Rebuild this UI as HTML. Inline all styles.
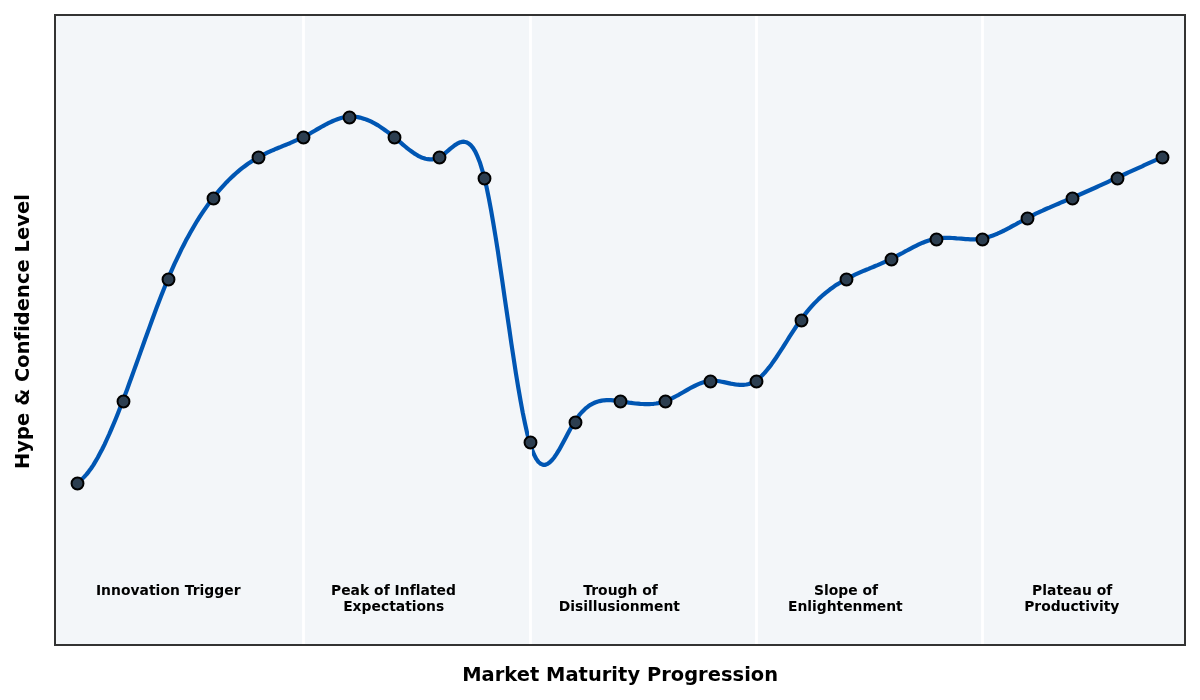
<!DOCTYPE html>
<html lang="en">
<head>
<meta charset="utf-8">
<title>Hype Cycle</title>
<style>
html,body{margin:0;padding:0;background:#fff;}
body{width:1200px;height:700px;overflow:hidden;}
svg{display:block;}
text{font-family:"DejaVu Sans","Liberation Sans",sans-serif;font-weight:bold;fill:#000;}
.lbl text{font-size:13.89px;text-anchor:middle;}
.ax{font-size:19.44px;text-anchor:middle;}
.pts circle{fill:#2c3e50;stroke:#000;stroke-width:2.0;}
</style>
</head>
<body>
<svg width="1200" height="700" viewBox="0 0 1200 700">
<rect x="0" y="0" width="1200" height="700" fill="#fff"/>
<rect x="54.83" y="15.00" width="1130.17" height="630.17" fill="#f3f6f9"/>
<polyline points="77.4,482.5 79.7,481.0 82.0,479.1 84.2,476.9 86.5,474.4 88.7,471.6 91.0,468.5 93.3,465.1 95.5,461.4 97.8,457.5 100.0,453.3 102.3,449.0 104.6,444.3 106.8,439.5 109.1,434.5 111.3,429.4 113.6,424.0 115.9,418.5 118.1,412.9 120.4,407.1 122.6,401.2 124.9,395.3 127.2,389.2 129.4,383.0 131.7,376.8 133.9,370.6 136.2,364.3 138.5,357.9 140.7,351.6 143.0,345.3 145.2,339.0 147.5,332.7 149.8,326.4 152.0,320.2 154.3,314.1 156.5,308.0 158.8,302.0 161.1,296.1 163.3,290.4 165.6,284.8 167.9,279.3 170.1,273.9 172.4,268.7 174.6,263.7 176.9,258.8 179.2,254.1 181.4,249.4 183.7,245.0 185.9,240.6 188.2,236.4 190.5,232.3 192.7,228.4 195.0,224.5 197.2,220.8 199.5,217.2 201.8,213.7 204.0,210.4 206.3,207.1 208.5,204.0 210.8,200.9 213.1,198.0 215.3,195.1 217.6,192.3 219.8,189.7 222.1,187.1 224.4,184.6 226.6,182.2 228.9,179.9 231.1,177.7 233.4,175.6 235.7,173.5 237.9,171.6 240.2,169.7 242.4,167.9 244.7,166.2 247.0,164.5 249.2,162.9 251.5,161.4 253.7,160.0 256.0,158.6 258.3,157.3 260.5,156.1 262.8,154.9 265.0,153.8 267.3,152.7 269.6,151.6 271.8,150.6 274.1,149.7 276.3,148.7 278.6,147.8 280.9,146.9 283.1,145.9 285.4,145.0 287.6,144.1 289.9,143.2 292.2,142.2 294.4,141.2 296.7,140.2 298.9,139.2 301.2,138.1 303.5,137.0 305.7,135.8 308.0,134.5 310.3,133.3 312.5,132.0 314.8,130.7 317.0,129.4 319.3,128.1 321.6,126.8 323.8,125.6 326.1,124.3 328.3,123.2 330.6,122.1 332.9,121.0 335.1,120.1 337.4,119.2 339.6,118.5 341.9,117.8 344.2,117.3 346.4,116.9 348.7,116.6 350.9,116.5 353.2,116.6 355.5,116.8 357.7,117.1 360.0,117.6 362.2,118.2 364.5,118.9 366.8,119.7 369.0,120.6 371.3,121.7 373.5,122.8 375.8,124.1 378.1,125.4 380.3,126.9 382.6,128.4 384.8,130.0 387.1,131.6 389.4,133.3 391.6,135.1 393.9,137.0 396.1,138.9 398.4,140.8 400.7,142.7 402.9,144.6 405.2,146.5 407.4,148.4 409.7,150.1 412.0,151.8 414.2,153.4 416.5,154.8 418.7,156.1 421.0,157.2 423.3,158.1 425.5,158.8 427.8,159.2 430.0,159.4 432.3,159.4 434.6,159.0 436.8,158.3 439.1,157.3 441.4,155.9 443.6,154.3 445.9,152.5 448.1,150.6 450.4,148.6 452.7,146.8 454.9,145.1 457.2,143.7 459.4,142.6 461.7,141.9 464.0,141.7 466.2,142.2 468.5,143.3 470.7,145.2 473.0,147.9 475.3,151.6 477.5,156.4 479.8,162.2 482.0,169.3 484.3,177.6 486.6,187.3 488.8,198.2 491.1,210.3 493.3,223.2 495.6,237.0 497.9,251.4 500.1,266.4 502.4,281.7 504.6,297.3 506.9,312.9 509.2,328.4 511.4,343.8 513.7,358.8 515.9,373.3 518.2,387.2 520.5,400.3 522.7,412.4 525.0,423.5 527.2,433.4 529.5,441.9 531.8,448.9 534.0,454.6 536.3,458.9 538.5,462.0 540.8,463.9 543.1,464.8 545.3,464.8 547.6,463.9 549.8,462.3 552.1,460.0 554.4,457.2 556.6,453.9 558.9,450.2 561.1,446.2 563.4,442.0 565.7,437.7 567.9,433.5 570.2,429.3 572.4,425.3 574.7,421.6 577.0,418.2 579.2,415.2 581.5,412.5 583.8,410.2 586.0,408.1 588.3,406.3 590.5,404.8 592.8,403.6 595.1,402.5 597.3,401.7 599.6,401.1 601.8,400.6 604.1,400.3 606.4,400.2 608.6,400.2 610.9,400.2 613.1,400.4 615.4,400.6 617.7,400.9 619.9,401.2 622.2,401.6 624.4,401.9 626.7,402.2 629.0,402.6 631.2,402.9 633.5,403.2 635.7,403.5 638.0,403.7 640.3,403.9 642.5,404.0 644.8,404.1 647.0,404.1 649.3,404.1 651.6,404.0 653.8,403.8 656.1,403.5 658.3,403.1 660.6,402.6 662.9,402.0 665.1,401.2 667.4,400.4 669.6,399.4 671.9,398.4 674.2,397.2 676.4,396.0 678.7,394.8 680.9,393.5 683.2,392.2 685.5,390.9 687.7,389.6 690.0,388.3 692.2,387.1 694.5,386.0 696.8,384.9 699.0,383.9 701.3,383.0 703.5,382.3 705.8,381.7 708.1,381.2 710.3,380.9 712.6,380.8 714.9,380.8 717.1,381.0 719.4,381.3 721.6,381.7 723.9,382.1 726.2,382.6 728.4,383.1 730.7,383.6 732.9,384.0 735.2,384.4 737.5,384.7 739.7,384.9 742.0,384.9 744.2,384.8 746.5,384.5 748.8,384.0 751.0,383.2 753.3,382.2 755.5,380.9 757.8,379.3 760.1,377.4 762.3,375.3 764.6,372.9 766.8,370.2 769.1,367.4 771.4,364.4 773.6,361.3 775.9,358.0 778.1,354.6 780.4,351.2 782.7,347.7 784.9,344.1 787.2,340.5 789.4,336.9 791.7,333.4 794.0,329.9 796.2,326.5 798.5,323.1 800.7,319.9 803.0,316.8 805.3,313.9 807.5,311.1 809.8,308.4 812.0,305.9 814.3,303.4 816.6,301.1 818.8,298.9 821.1,296.8 823.3,294.8 825.6,292.9 827.9,291.1 830.1,289.3 832.4,287.7 834.6,286.1 836.9,284.6 839.2,283.2 841.4,281.8 843.7,280.5 846.0,279.3 848.2,278.1 850.5,276.9 852.7,275.8 855.0,274.7 857.3,273.7 859.5,272.7 861.8,271.7 864.0,270.7 866.3,269.8 868.6,268.9 870.8,267.9 873.1,267.0 875.3,266.0 877.6,265.1 879.9,264.1 882.1,263.1 884.4,262.1 886.6,261.1 888.9,260.0 891.2,258.9 893.4,257.8 895.7,256.6 897.9,255.4 900.2,254.2 902.5,253.0 904.7,251.7 907.0,250.5 909.2,249.3 911.5,248.1 913.8,246.9 916.0,245.8 918.3,244.7 920.5,243.7 922.8,242.7 925.1,241.8 927.3,241.0 929.6,240.3 931.8,239.6 934.1,239.1 936.4,238.6 938.6,238.3 940.9,238.0 943.1,237.9 945.4,237.8 947.7,237.9 949.9,237.9 952.2,238.0 954.4,238.2 956.7,238.4 959.0,238.5 961.2,238.7 963.5,238.9 965.7,239.1 968.0,239.2 970.3,239.3 972.5,239.3 974.8,239.3 977.0,239.1 979.3,238.9 981.6,238.6 983.8,238.2 986.1,237.7 988.4,237.0 990.6,236.3 992.9,235.5 995.1,234.6 997.4,233.7 999.7,232.7 1001.9,231.6 1004.2,230.5 1006.4,229.3 1008.7,228.2 1011.0,226.9 1013.2,225.7 1015.5,224.5 1017.7,223.2 1020.0,222.0 1022.3,220.7 1024.5,219.5 1026.8,218.3 1029.0,217.1 1031.3,216.0 1033.6,214.8 1035.8,213.7 1038.1,212.7 1040.3,211.6 1042.6,210.6 1044.9,209.5 1047.1,208.5 1049.4,207.6 1051.6,206.6 1053.9,205.6 1056.2,204.6 1058.4,203.7 1060.7,202.7 1062.9,201.8 1065.2,200.8 1067.5,199.9 1069.7,198.9 1072.0,198.0 1074.2,197.0 1076.5,196.0 1078.8,195.0 1081.0,194.0 1083.3,193.0 1085.5,192.0 1087.8,191.0 1090.1,190.0 1092.3,189.0 1094.6,188.0 1096.8,187.0 1099.1,185.9 1101.4,184.9 1103.6,183.9 1105.9,182.8 1108.1,181.8 1110.4,180.7 1112.7,179.7 1114.9,178.7 1117.2,177.6 1119.5,176.6 1121.7,175.5 1124.0,174.5 1126.2,173.5 1128.5,172.4 1130.8,171.4 1133.0,170.4 1135.3,169.3 1137.5,168.3 1139.8,167.3 1142.1,166.3 1144.3,165.2 1146.6,164.2 1148.8,163.2 1151.1,162.2 1153.4,161.2 1155.6,160.2 1157.9,159.2 1160.1,158.3 1162.4,157.3" fill="none" stroke="#0056b3" stroke-width="4.17" stroke-linejoin="round" stroke-linecap="butt"/>
<rect x="302.1" y="15.00" width="2.8" height="630.17" fill="#fff"/>
<rect x="529.1" y="15.00" width="2.8" height="630.17" fill="#fff"/>
<rect x="755.1" y="15.00" width="2.8" height="630.17" fill="#fff"/>
<rect x="981.1" y="15.00" width="2.8" height="630.17" fill="#fff"/>
<g class="lbl">
<text x="168.25" y="595" letter-spacing="0.03">Innovation Trigger</text>
<text x="393.48" y="595" letter-spacing="0.03">Peak of Inflated</text>
<text x="393.68" y="611" letter-spacing="0">Expectations</text>
<text x="620.52" y="595" letter-spacing="0">Trough of</text>
<text x="619.32" y="611" letter-spacing="-0.03">Disillusionment</text>
<text x="845.95" y="595" letter-spacing="0">Slope of</text>
<text x="845.35" y="611" letter-spacing="-0.03">Enlightenment</text>
<text x="1072.18" y="595" letter-spacing="0.03">Plateau of</text>
<text x="1071.78" y="611" letter-spacing="-0.03">Productivity</text>
</g>
<g class="pts">
<circle cx="77.5" cy="483.5" r="5.95"/>
<circle cx="123.5" cy="401.5" r="5.95"/>
<circle cx="168.5" cy="279.5" r="5.95"/>
<circle cx="213.5" cy="198.5" r="5.95"/>
<circle cx="258.5" cy="157.5" r="5.95"/>
<circle cx="303.5" cy="137.5" r="5.95"/>
<circle cx="349.5" cy="117.5" r="5.95"/>
<circle cx="394.5" cy="137.5" r="5.95"/>
<circle cx="439.5" cy="157.5" r="5.95"/>
<circle cx="484.5" cy="178.5" r="5.95"/>
<circle cx="530.5" cy="442.5" r="5.95"/>
<circle cx="575.5" cy="422.5" r="5.95"/>
<circle cx="620.5" cy="401.5" r="5.95"/>
<circle cx="665.5" cy="401.5" r="5.95"/>
<circle cx="710.5" cy="381.5" r="5.95"/>
<circle cx="756.5" cy="381.5" r="5.95"/>
<circle cx="801.5" cy="320.5" r="5.95"/>
<circle cx="846.5" cy="279.5" r="5.95"/>
<circle cx="891.5" cy="259.5" r="5.95"/>
<circle cx="936.5" cy="239.5" r="5.95"/>
<circle cx="982.5" cy="239.5" r="5.95"/>
<circle cx="1027.5" cy="218.5" r="5.95"/>
<circle cx="1072.5" cy="198.5" r="5.95"/>
<circle cx="1117.5" cy="178.5" r="5.95"/>
<circle cx="1162.5" cy="157.5" r="5.95"/>
</g>
<rect x="55" y="15" width="1130" height="630" fill="none" stroke="#333" stroke-width="2"/>
<text class="ax" x="620.12" y="680.6" letter-spacing="0.03">Market Maturity Progression</text>
<text class="ax" transform="translate(28.5,331.48) rotate(-90)" letter-spacing="0.06">Hype &amp; Confidence Level</text>
</svg>
</body>
</html>
